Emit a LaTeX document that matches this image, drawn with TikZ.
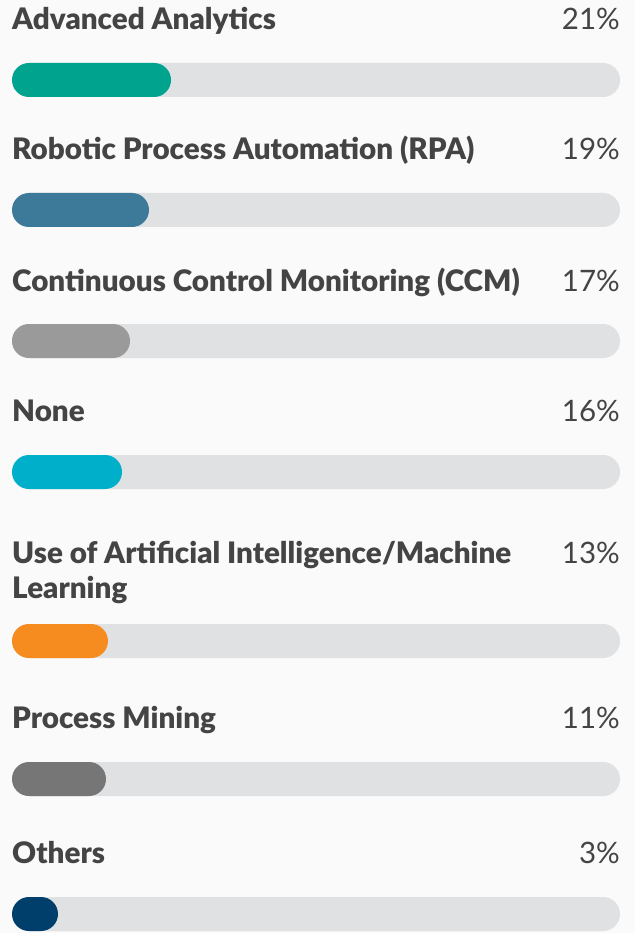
\documentclass[tikz,border=0pt]{standalone}
\usepackage{fontspec}
\setmainfont{Lato}
\newfontfamily\pollheavy{Lato Black}
\usepackage{tikz}
\usetikzlibrary{positioning}
\usepackage{xcolor}
\definecolor{PollPage}{HTML}{FAFAFA}
\definecolor{PollTrack}{HTML}{E0E1E3}
\definecolor{PollText}{HTML}{444444}
\definecolor{PollTeal}{HTML}{00A38D}
\definecolor{PollSteel}{HTML}{3D7A9A}
\definecolor{PollGray}{HTML}{9A9A9A}
\definecolor{PollCyan}{HTML}{00AFC9}
\definecolor{PollOrange}{HTML}{F68B1F}
\definecolor{PollSlate}{HTML}{767676}
\definecolor{PollNavy}{HTML}{003F6B}

\begin{document}
\begin{tikzpicture}[
  x=1pt,y=-1pt,
  track/.style={fill=PollTrack,rounded corners=17pt},
  share/.style={rounded corners=17pt},
  itemname/.style={anchor=base west,inner sep=0pt,align=left,text=PollText,
    font=\pollheavy\fontsize{29.6}{35}\selectfont},
  itempct/.style={anchor=base east,inner sep=0pt,text=PollText,
    font=\fontsize{29.5}{35}\selectfont}
]

% page with its margins
\fill[PollPage] (0,0) rectangle (635,933);
\useasboundingbox (0,0) rectangle (635,933);

% Advanced Analytics
\node[itemname] (analytics) at (12,30) {Advanced Analytics};
\node[itempct] (analyticspct) at (620,30) {21\%};
\fill[track] (12,63) rectangle (620,97);
\fill[share,PollTeal] (12,63) rectangle (171,97);

% RPA
\node[itemname] (rpa) at (12,160) {Robotic Process Automation (RPA)};
\node[itempct] (rpapct) at (620,160) {19\%};
\fill[track] (12,193) rectangle (620,227);
\fill[share,PollSteel] (12,193) rectangle (149,227);

% CCM
\node[itemname] (ccm) at (12,291) {Continuous Control Monitoring (CCM)};
\node[itempct] (ccmpct) at (620,291) {17\%};
\fill[track] (12,324) rectangle (620,358);
\fill[share,PollGray] (12,324) rectangle (130,358);

% None
\node[itemname] (none) at (12,421) {None};
\node[itempct] (nonepct) at (620,421) {16\%};
\fill[track] (12,455) rectangle (620,489);
\fill[share,PollCyan] (12,455) rectangle (122,489);

% AI / ML, two lines (base is the last line)
\node[itemname] (aiml) at (12,598)
  {Use of Artificial Intelligence/Machine\\Learning};
\node[itempct] (aimlpct) at (620,563) {13\%};
\fill[track] (12,624) rectangle (620,658);
\fill[share,PollOrange] (12,624) rectangle (108,658);

% Process Mining
\node[itemname] (mining) at (12,728) {Process Mining};
\node[itempct] (miningpct) at (620,728) {11\%};
\fill[track] (12,762) rectangle (620,796);
\fill[share,PollSlate] (12,762) rectangle (106,796);

% Others
\node[itemname] (others) at (12,863) {Others};
\node[itempct] (otherspct) at (620,863) {3\%};
\fill[track] (12,897) rectangle (620,931);
\fill[share,PollNavy] (12,897) rectangle (58,931);

\end{tikzpicture}
\end{document}
